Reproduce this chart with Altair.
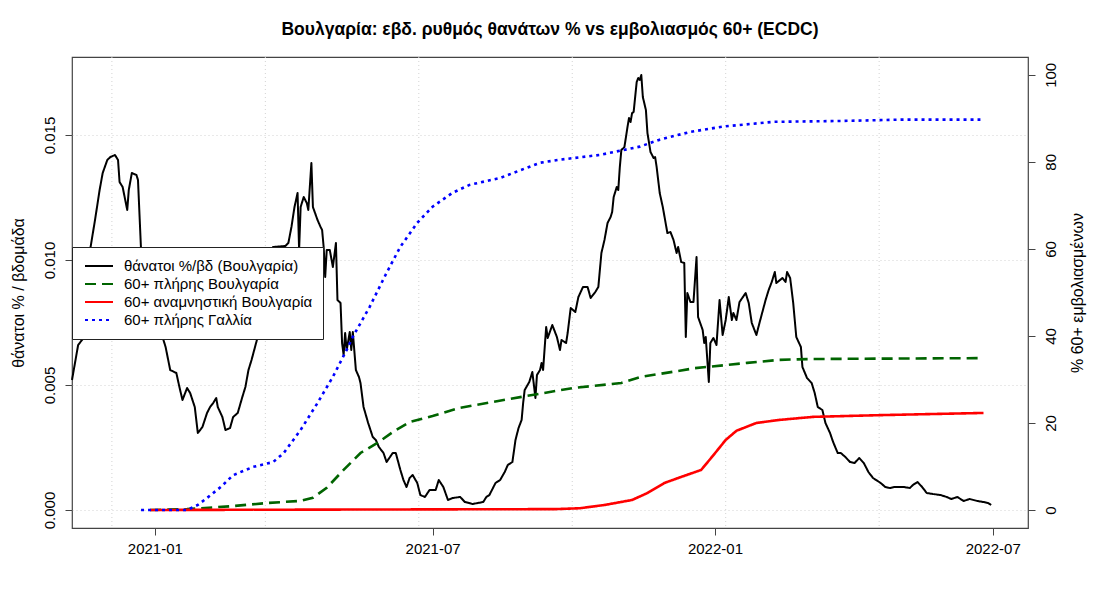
import altair as alt
import pandas as pd

BASE = pd.Timestamp("2021-01-01")

# Weekly death rate (% of population), Bulgaria; day offsets from 2021-01-01
death_day = [-54, -50, -45, -42, -39, -36, -34, -31, -29, -26, -24, -23, -21, -18, -17, -15, -12, -11, -9,
             5, 7, 10, 14, 16, 18, 21, 23, 26, 28, 31, 34, 36, 38, 40, 41, 44, 46, 49, 51, 54, 57, 59, 61, 63, 67,
             77, 85, 87, 89, 91, 93, 94, 95, 97, 99, 100, 102, 103, 106, 108, 109, 110, 111, 112, 114, 116, 118,
             119, 121, 122, 123, 124, 125, 127, 128, 129, 131, 133, 134, 136, 139, 142, 144, 146, 149, 151, 155,
             157, 160, 162, 164, 166, 168, 171, 173, 176, 179, 183, 185, 188, 191, 194, 199, 202, 207, 214, 216,
             218, 222, 225, 228, 230, 233, 235, 237, 239, 240, 241, 244, 246, 248, 249, 251, 252, 253, 255, 256,
             259, 262, 264, 265, 268, 269, 271, 274, 276, 279, 282, 284, 287, 289, 291, 293, 295, 297, 298, 299,
             301, 302, 303, 304, 306, 308, 309, 310, 311, 312, 314, 315, 316, 317, 318, 320, 321, 323, 325, 326,
             327, 329, 331, 334, 336, 338, 340, 341, 343, 345, 346, 347, 349, 351, 353, 354, 357, 358, 359, 361,
             362, 364, 366, 368, 370, 372, 374, 376, 377, 379, 381, 385, 387, 389, 392, 394, 398, 400, 402, 404,
             405, 409, 411, 412, 414, 416, 418, 421, 422, 425, 428, 430, 432, 435, 437, 440, 442, 445, 447, 450,
             453, 456, 459, 462, 465, 468, 473, 476, 479, 482, 488, 492, 494, 497, 500, 503, 507, 512, 516, 519,
             523, 527, 531, 536, 540, 543, 545]
death_rate = [0.0052, 0.0066, 0.0070, 0.01048, 0.0116, 0.0128, 0.01348, 0.0140, 0.01412, 0.0142, 0.0140,
              0.01312, 0.01292, 0.0120, 0.0128, 0.01348, 0.0134, 0.0132, 0.0104,
              0.00692, 0.00652, 0.0056, 0.00548, 0.00492, 0.0044, 0.00488, 0.00468, 0.00412, 0.00308, 0.00332,
              0.00388, 0.00412, 0.00428, 0.00448, 0.00412, 0.00372, 0.0032, 0.00328, 0.00372, 0.00388, 0.00452,
              0.00492, 0.0056, 0.006, 0.00692,
              0.01052, 0.01056, 0.01068, 0.01132, 0.01212, 0.01268, 0.0104, 0.01212, 0.01252, 0.01228, 0.0120,
              0.01388, 0.01212, 0.0116, 0.01132, 0.0112, 0.01052, 0.00932, 0.0104, 0.0104, 0.00972, 0.01068,
              0.0084, 0.00828, 0.00668, 0.0062, 0.00708, 0.0064, 0.00712, 0.0064, 0.00712, 0.0056, 0.00532,
              0.00508, 0.00412, 0.00348, 0.00292, 0.0028, 0.00252, 0.00228, 0.00192, 0.00228,
              0.00228, 0.0016, 0.0012, 0.00092, 0.00128, 0.0014, 0.00108, 0.0006, 0.00052, 0.0008, 0.0008, 0.0012,
              0.00092, 0.0004, 0.00048, 0.00052, 0.00032, 0.00024, 0.00032, 0.00052,
              0.0006, 0.00108, 0.0012, 0.00152, 0.0018, 0.00192, 0.0028, 0.00328, 0.0036, 0.00428, 0.0048,
              0.00512, 0.00552, 0.00448, 0.0054, 0.0056, 0.00588, 0.0056, 0.00732, 0.00688,
              0.0074, 0.00692, 0.0064, 0.0068, 0.00668, 0.00708, 0.00808, 0.00792, 0.00852, 0.00892, 0.00892,
              0.00848, 0.00872, 0.00892, 0.01028, 0.0108, 0.01148, 0.01172, 0.01192, 0.01252,
              0.01292, 0.0128, 0.01372, 0.0144, 0.01452, 0.01532, 0.01568, 0.01552, 0.01588, 0.01592, 0.01712,
              0.01728, 0.0172, 0.0174, 0.01652, 0.016, 0.01508, 0.01432, 0.01408, 0.01412,
              0.01372, 0.01268, 0.01212, 0.01108, 0.01112, 0.0108, 0.01028, 0.01052, 0.00992, 0.00988, 0.00692,
              0.00868, 0.00832, 0.00832, 0.01012, 0.00772, 0.0072, 0.00668, 0.00692, 0.00512,
              0.00668, 0.00688, 0.0066, 0.0084, 0.007, 0.0076, 0.00852, 0.0076, 0.00788, 0.0076, 0.00832,
              0.00868, 0.00828, 0.00748, 0.007, 0.00748, 0.0084, 0.0088, 0.00912, 0.00952,
              0.00908, 0.00928, 0.00912, 0.00952, 0.00928, 0.00828, 0.00692, 0.00652, 0.00572, 0.00528, 0.00508,
              0.00468, 0.00412, 0.004, 0.00348, 0.00308, 0.00272, 0.00228, 0.00228, 0.00212,
              0.00192, 0.00188, 0.00208, 0.00188, 0.00152, 0.00128, 0.00108, 0.00092, 0.00088, 0.00092, 0.00092,
              0.00088, 0.001, 0.00112, 0.00092, 0.00068, 0.00064, 0.0006, 0.00052, 0.00044,
              0.00052, 0.00036, 0.00044, 0.00036, 0.00032, 0.00028, 0.0002]

# 60+ fully vaccinated, France (%)
fr_day = [-9, 21, 28, 34, 43, 51, 64, 77, 84, 95, 106, 116, 125, 129, 140, 151, 160, 171, 181, 194, 205,
          225, 251, 264, 290, 316, 329, 349, 370, 403, 447, 486, 538]
fr_full = [0, 0, 1.15, 2.76, 5.3, 8.0, 9.9, 11.0, 13.1, 18.4, 24.6, 30.6, 36.8, 39.8, 46.7, 54.5, 60.5, 66.0,
           69.7, 72.9, 74.7, 76.3, 79.8, 80.5, 81.6, 83.5, 85.1, 86.9, 88.1, 89.2, 89.4, 89.7, 89.7]

# 60+ fully vaccinated, Bulgaria (%)
bg_day = [-3, 21, 51, 73, 95, 103, 112, 123, 134, 145, 155, 166, 181, 199, 239, 272, 304, 317, 342, 352,
          386, 407, 429, 540]
bg_full = [0, 0.2, 0.9, 1.6, 2.1, 2.8, 5.1, 9.2, 13.1, 15.4, 17.9, 20.2, 21.6, 23.5, 26.0, 28.0, 29.2, 30.6,
           32.0, 32.6, 33.8, 34.5, 34.7, 34.9]

# 60+ booster, Bulgaria (%)
bgb_day = [-3, 261, 277, 293, 311, 321, 332, 343, 356, 364, 372, 379, 392, 407, 429, 473, 540]
bgb_boost = [0, 0.2, 0.4, 1.15, 2.3, 3.9, 6.2, 7.6, 9.2, 12.6, 16.1, 18.2, 20.0, 20.7, 21.4, 21.8, 22.3]

series_names = ["θάνατοι %/βδ (Βουλγαρία)", "60+ πλήρης Βουλγαρία",
                "60+ αναμνηστική Βουλγαρία", "60+ πλήρης Γαλλία"]
series_colors = ["#000000", "#006400", "#ff0000", "#0000ff"]
series_dash = [[1, 0], [11, 6], [1, 0], [3, 4]]

left_ticks = [0, 0.005, 0.01, 0.015]
right_ticks = [0, 20, 40, 60, 80, 100]
x_ticks = [(2021, 1), (2021, 7), (2022, 1), (2022, 7)]
grid_dates = ["2020-12-04", "2021-03-14", "2021-06-22", "2021-09-30", "2022-01-08", "2022-04-18"]

FONT = "Liberation Sans"


def to_dates(days):
    return BASE + pd.to_timedelta(days, unit="D")


df_death = pd.DataFrame({"date": to_dates(death_day), "value": death_rate, "series": series_names[0]})
df_vacc = pd.concat([
    pd.DataFrame({"date": to_dates(bg_day), "value": bg_full, "series": series_names[1]}),
    pd.DataFrame({"date": to_dates(bgb_day), "value": bgb_boost, "series": series_names[2]}),
    pd.DataFrame({"date": to_dates(fr_day), "value": fr_full, "series": series_names[3]}),
], ignore_index=True)
df_grid = pd.DataFrame({"date": pd.to_datetime(grid_dates)})

x_scale = alt.Scale(domain=[alt.DateTime(year=2020, month=11, date=8),
                            alt.DateTime(year=2022, month=7, date=24)])
x_axis = alt.Axis(values=[alt.DateTime(year=y, month=m, date=1) for y, m in x_ticks],
                  format="%Y-%m", labelAngle=0, tickSize=7, labelPadding=6, domain=False, grid=False,
                  title=None)
color_scale = alt.Scale(domain=series_names, range=series_colors)
dash_scale = alt.Scale(domain=series_names, range=series_dash)
legend = alt.Legend(title=None, orient="none", legendX=0, legendY=190, fillColor="white",
                    strokeColor="#222222", padding=10, symbolType="stroke", symbolSize=784,
                    symbolStrokeWidth=2, labelFontSize=15, labelFont=FONT, labelColor="black",
                    labelOffset=10, labelLimit=400, clipHeight=18, rowPadding=0, symbolOffset=2,
                    cornerRadius=0)

left_axis = alt.Axis(values=left_ticks, format=".3f", labelAngle=270, labelAlign="center",
                     labelBaseline="bottom", tickSize=7, labelPadding=8, domain=False, grid=True,
                     gridColor="#d3d3d3", gridDash=[1, 3], titlePadding=16)
right_axis = alt.Axis(orient="right", values=right_ticks, format="d", labelAngle=270, labelAlign="center",
                      labelBaseline="top", tickSize=7, labelPadding=8, domain=False, grid=False,
                      titleAngle=270, titleBaseline="top", titlePadding=11)

vgrid = alt.Chart(df_grid).mark_rule(color="#d3d3d3", strokeDash=[1, 3], strokeWidth=1).encode(
    x=alt.X("date:T", scale=x_scale, axis=x_axis))

black = alt.Chart(df_death).mark_line(strokeWidth=2, strokeJoin="round").encode(
    x=alt.X("date:T", scale=x_scale, axis=x_axis),
    y=alt.Y("value:Q", scale=alt.Scale(domain=[-0.00072, 0.01812], nice=False, zero=False),
            axis=left_axis, title="θάνατοι % / βδομάδα"),
    color=alt.Color("series:N", scale=color_scale, legend=legend),
    strokeDash=alt.StrokeDash("series:N", scale=dash_scale, legend=legend),
)

vacc = alt.Chart(df_vacc).mark_line(strokeWidth=2.6).encode(
    x=alt.X("date:T", scale=x_scale, axis=x_axis),
    y=alt.Y("value:Q", scale=alt.Scale(domain=[-4.14, 104.1], nice=False, zero=False),
            axis=right_axis, title="% 60+ εμβολιασμένων"),
    color=alt.Color("series:N", scale=color_scale, legend=legend),
    strokeDash=alt.StrokeDash("series:N", scale=dash_scale, legend=legend),
    detail="series:N",
)

chart = alt.layer(alt.layer(vgrid, black), vacc).resolve_scale(y="independent").properties(
    width=956, height=471,
    title="Βουλγαρία: εβδ. ρυθμός θανάτων % vs εμβολιασμός 60+ (ECDC)",
    autosize=alt.AutoSizeParams(type="none"),
    padding={"left": 64, "top": 49, "right": 60, "bottom": 60},
).configure_view(stroke="#444444", strokeWidth=1.2).configure_axis(
    labelFont=FONT, titleFont=FONT, labelFontSize=15, titleFontSize=16, titleFontWeight="normal",
    tickColor="#444444", labelColor="black", titleColor="black",
).configure_title(font=FONT, fontSize=17.5, fontWeight="bold", anchor="middle", offset=18, color="black")

chart.save("out.html", embed_options={"renderer": "svg", "actions": False})
